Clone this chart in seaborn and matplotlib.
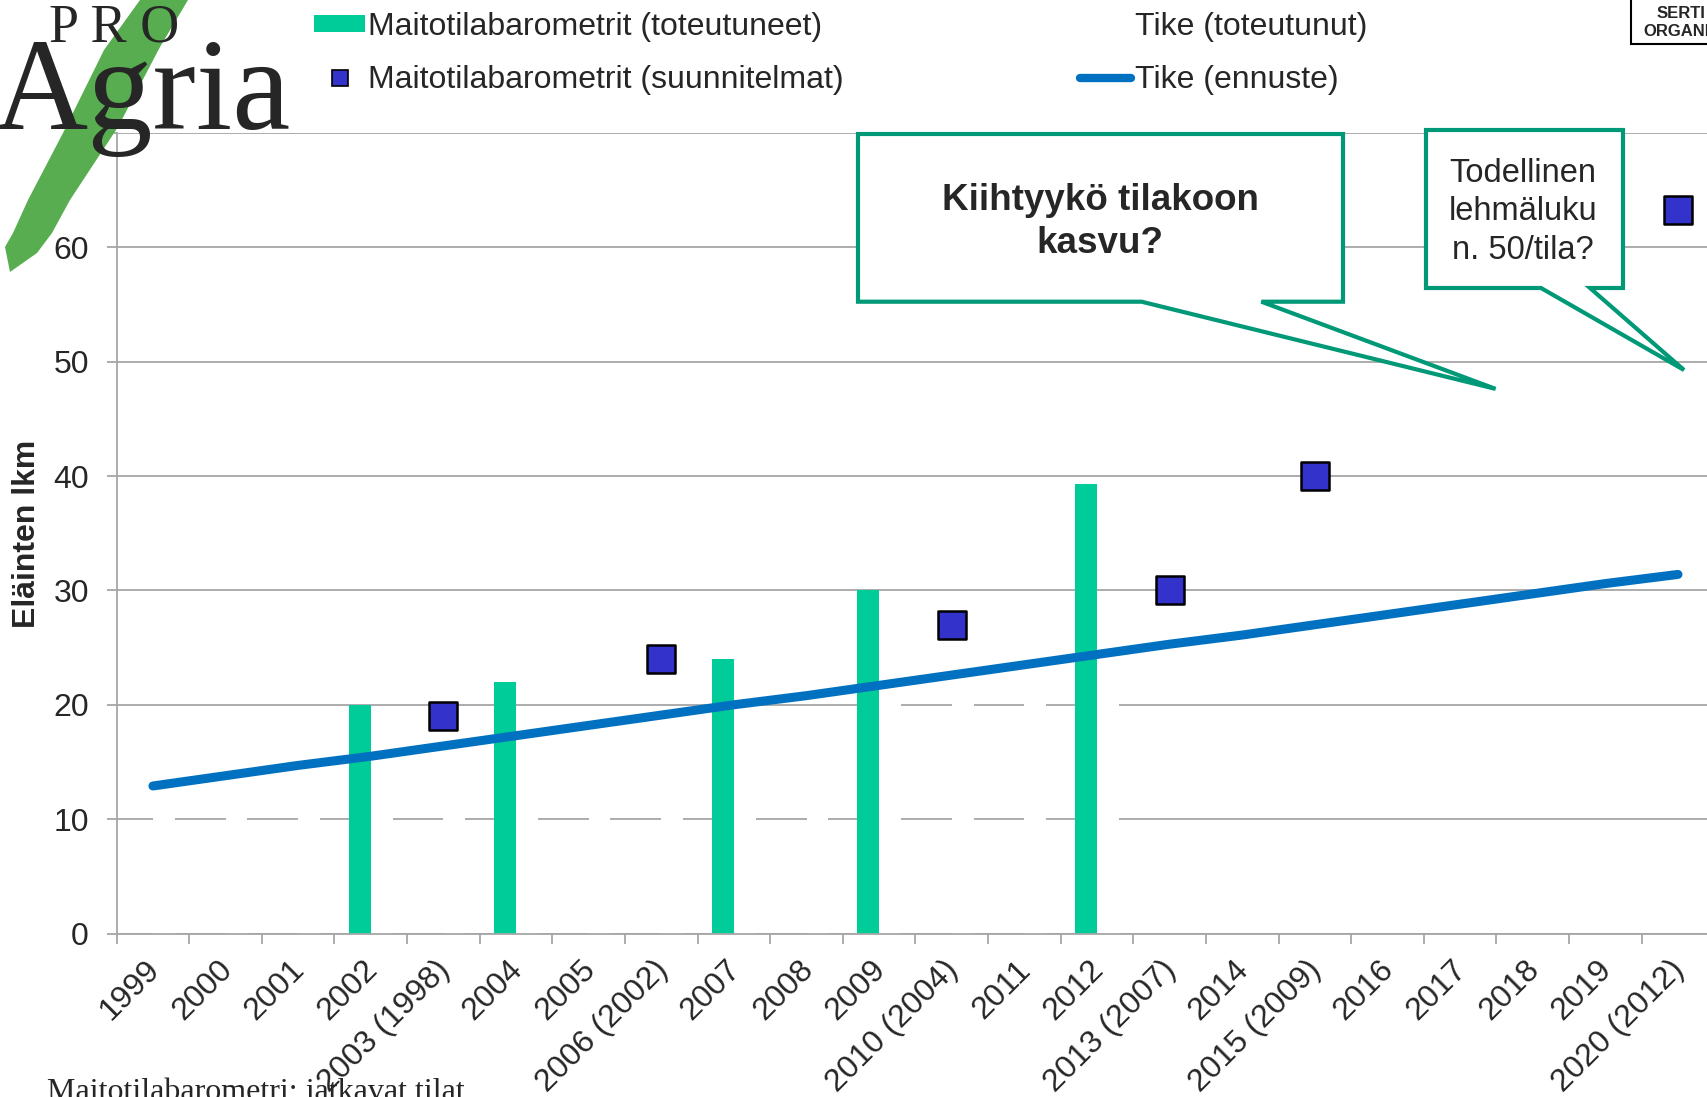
import numpy as np
import pandas as pd
import matplotlib
matplotlib.use("Agg")
import matplotlib.pyplot as plt
import seaborn as sns
from matplotlib.patches import Polygon, Rectangle
from matplotlib.lines import Line2D
from matplotlib.transforms import ScaledTranslation

# --- data ---
years = ["1999", "2000", "2001", "2002", "2003 (1998)", "2004", "2005",
         "2006 (2002)", "2007", "2008", "2009", "2010 (2004)", "2011", "2012",
         "2013 (2007)", "2014", "2015 (2009)", "2016", "2017", "2018", "2019",
         "2020 (2012)"]
nan = np.nan
# Maitotilabarometrit (toteutuneet) - green bars
barometer_actual = [nan, nan, nan, 20, nan, 22, nan, nan, 24, nan, 30, nan, nan, 39.3,
                    nan, nan, nan, nan, nan, nan, nan, nan]
# Tike (toteutunut) - white bars (only visible as gaps in the gridlines)
tike_actual = [13, 14, 15, 16, 16.5, 17, 18, 18.5, 19, 19.5, 21, 22, 23, 24,
               nan, nan, nan, nan, nan, nan, nan, nan]
# Maitotilabarometrit (suunnitelmat) - squares
barometer_plans = [nan, nan, nan, nan, 19, nan, nan, 24, nan, nan, nan, 27, nan, nan,
                   30, nan, 40, nan, nan, nan, nan, 63.3]
# Tike (ennuste) - line
tike_forecast = [12.9, 13.8, 14.7, 15.5, 16.4, 17.3, 18.2, 19.1, 20.0, 20.8, 21.7,
                 22.6, 23.5, 24.4, 25.3, 26.1, 27.0, 27.9, 28.8, 29.7, 30.6, 31.4]

labels = ["Maitotilabarometrit (toteutuneet)", "Maitotilabarometrit (suunnitelmat)",
          "Tike (toteutunut)", "Tike (ennuste)"]

W, H = 1708, 1097
GREEN = "#00CC99"
BLUE_SQ = "#3333CC"
BLUE_LINE = "#0070C0"
GRID = "#A6A6A6"
CALLOUT = "#009977"
FS = 23


def px(x, y):
    # full-size pixel position -> figure fraction
    return (x / W, 1 - y / H)


sns.set_theme(style="ticks")
plt.rcParams["font.family"] = ["Liberation Sans", "DejaVu Sans"]

fig = plt.figure(figsize=(W / 100, H / 100), dpi=100)
ax = fig.add_axes([116.6 / W, 1 - 933.5 / H, (1714.3 - 116.6) / W, (933.5 - 133) / H])

pos = list(range(len(years)))
bars = pd.DataFrame({
    "pos": pos * 2,
    "value": barometer_actual + tike_actual,
    "series": [labels[0]] * len(years) + [labels[2]] * len(years),
})
sns.barplot(data=bars, x="pos", y="value", hue="series", native_scale=True,
            hue_order=[labels[0], labels[2]],
            palette={labels[0]: GREEN, labels[2]: "white"},
            width=0.6, saturation=1, errorbar=None, linewidth=0,
            legend=False, ax=ax)

sns.lineplot(x=pos, y=tike_forecast, color=BLUE_LINE, linewidth=6.5,
             solid_capstyle="round", zorder=3, ax=ax)

plans = pd.DataFrame({"pos": pos, "value": barometer_plans}).dropna()
sns.scatterplot(data=plans, x="pos", y="value", marker="s", s=430, color=BLUE_SQ,
                edgecolor="black", linewidth=1.8, zorder=4, ax=ax)

ax.set_xlim(-0.5, 21.5)
ax.set_ylim(0, 70)
ax.set_xlabel("")
ax.set_ylabel("")
ax.set_axisbelow(True)
ax.yaxis.grid(True, color=GRID, linewidth=1.3)
ax.xaxis.grid(False)
for s in ["top", "right"]:
    ax.spines[s].set_visible(False)
for s in ["left", "bottom"]:
    ax.spines[s].set_color(GRID)
    ax.spines[s].set_linewidth(1.3)

ax.set_xticks(pos)
ax.set_xticklabels(years, rotation=45, ha="right", va="center",
                   rotation_mode="anchor", fontsize=FS)
ax.set_xticks(np.arange(-0.5, 22, 1), minor=True)
ax.tick_params(axis="x", which="major", length=0, pad=23)
ax.tick_params(axis="x", which="minor", length=7, width=1.3, color=GRID)
shift = ScaledTranslation(2 / 100, 0, fig.dpi_scale_trans)
for lab in ax.get_xticklabels():
    lab.set_transform(lab.get_transform() + shift)

ax.set_yticks(range(0, 71, 10))
ax.set_yticklabels([str(v) for v in range(0, 61, 10)] + [""])
ax.tick_params(axis="y", length=7, width=1.3, color=GRID, pad=13, labelsize=FS)

fig.text(*px(27, 534), "Eläinten lkm", rotation=90, fontsize=FS, fontweight="bold",
         ha="center", va="center")

# legend
h1 = Rectangle((0, 0), 1, 1, facecolor=GREEN, edgecolor="none")
h2 = Line2D([], [], linestyle="none", marker="s", markersize=12,
            markerfacecolor=BLUE_SQ, markeredgecolor="black", markeredgewidth=1.2)
h3 = Rectangle((0, 0), 1, 1, facecolor="white", edgecolor="none")
h4 = Line2D([], [], color=BLUE_LINE, linewidth=6, solid_capstyle="round")
fig.legend([h1, h2, h3, h4], labels, ncol=2, loc="upper left",
           bbox_to_anchor=px(314, 12), frameon=False, fontsize=FS,
           handlelength=1.6, handleheight=0.42, handletextpad=0.1,
           columnspacing=7.4, labelspacing=0.72, borderpad=0, borderaxespad=0)

# callouts
box1 = [(858, 134), (1343, 134), (1343, 301.7), (1261.4, 301.7), (1495.6, 388.9),
        (1141.6, 301.7), (858, 301.7)]
box2 = [(1426, 130), (1623, 130), (1623, 288), (1590, 288), (1684, 370),
        (1541, 288), (1426, 288)]
for b in [box1, box2]:
    fig.add_artist(Polygon([px(x, y) for x, y in b], closed=True, transform=fig.transFigure,
                           facecolor="white", edgecolor=CALLOUT, linewidth=3,
                           joinstyle="miter", zorder=5))
fig.text(*px(1100, 222), "Kiihtyykö tilakoon\nkasvu?", fontsize=26.5, fontweight="bold",
         ha="center", va="center", linespacing=1.3, zorder=6)
fig.text(*px(1523, 212), "Todellinen\nlehmäluku\nn. 50/tila?", fontsize=23.5,
         ha="center", va="center", linespacing=1.32, zorder=6)

# logo
stroke = [(140, 0), (104, 50), (63, 133), (28, 200), (13, 233), (5, 247), (10, 272),
          (37, 253), (52, 233), (70, 200), (118, 127), (160, 47), (188, 0)]
fig.add_artist(Polygon([px(x, y) for x, y in stroke], closed=True, transform=fig.transFigure,
                       facecolor="#57AD4F", edgecolor="none", zorder=7))
fig.text(*px(-6, 129), "Agria", fontsize=94, family="Liberation Serif",
         ha="left", va="baseline", zorder=8)
fig.text(*px(49, 41), "P R O", fontsize=39, family="Liberation Serif",
         ha="left", va="baseline", zorder=8)

# certificate box (cut at the edge)
fig.add_artist(Rectangle(px(1631, 44), 100 / W, 60 / H, transform=fig.transFigure,
                         facecolor="white", edgecolor="black", linewidth=1.5, zorder=7))
fig.text(*px(1657, 13), "SERTI", fontsize=12, fontweight="bold", ha="left", va="center", zorder=8)
fig.text(*px(1643, 31), "ORGANI", fontsize=12, fontweight="bold", ha="left", va="center", zorder=8)

fig.text(*px(47, 1100), "Maitotilabarometri; jatkavat tilat", fontsize=23,
         family="Liberation Serif", ha="left", va="baseline", zorder=1)

fig.savefig("out.png", dpi=100)
